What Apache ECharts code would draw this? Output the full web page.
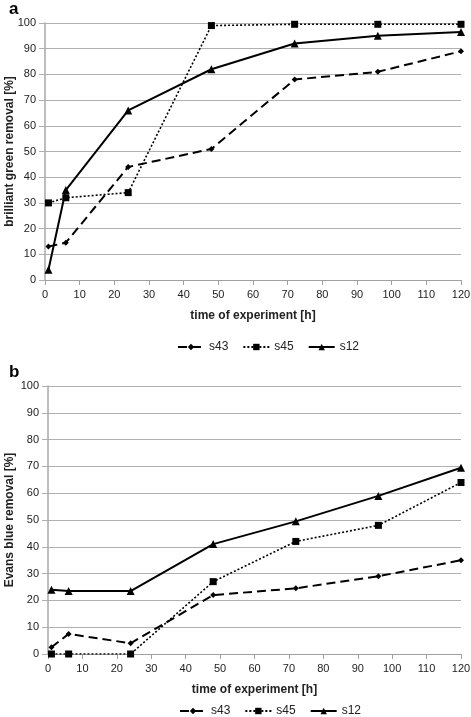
<!DOCTYPE html>
<html><head><meta charset="utf-8">
<script src="https://cdn.jsdelivr.net/npm/echarts@6/dist/echarts.min.js"></script>
<style>html,body{margin:0;padding:0;background:#fff}#c{width:471px;height:717px}</style>
</head><body><div id="c"></div>
<script>
const hours = [1, 6, 24, 48, 72, 96, 120];
const seriesNames = ['s43', 's45', 's12'];
const greenS43 = [13, 14.5, 44, 51, 78, 81, 89];
const greenS45 = [30, 32, 34, 99, 99.5, 99.5, 99.5];
const greenS12 = [4, 35, 66, 82, 92, 95, 96.5];
const blueS43 = [2.5, 7.5, 4, 22, 24.5, 29, 35];
const blueS45 = [0, 0, 0, 27, 42, 48, 64];
const blueS12 = [24, 23.5, 23.5, 41, 49.5, 59, 69.5];
const xTitle = 'time of experiment [h]';
const yTitleA = 'brilliant green removal [%]';
const yTitleB = 'Evans blue removal [%]';

const pair = (ys) => hours.map((h, i) => [h, ys[i]]);
const FONT = 'Liberation Sans, Arial, sans-serif';
const styles = {
  s43: {type: [9, 5], width: 2, symbol: 'diamond', size: 6},
  s45: {type: [2, 2], width: 1.6, symbol: 'rect', size: 7},
  s12: {type: 'solid', width: 2, symbol: 'triangle', size: 8}
};
function mk(name, ys, idx) {
  const s = styles[name];
  return {
    name, type: 'line', xAxisIndex: idx, yAxisIndex: idx, data: pair(ys),
    symbol: s.symbol, symbolSize: s.size, showSymbol: true,
    lineStyle: {color: '#000', width: s.width, type: s.type},
    itemStyle: {color: '#000'}, animation: false
  };
}
function xAx(idx) {
  return {
    type: 'value', gridIndex: idx, min: 0, max: 120, interval: 10,
    name: xTitle, nameLocation: 'middle', nameGap: 30, nameMoveOverlap: false,
    nameTextStyle: {fontFamily: FONT, fontSize: 12, fontWeight: 'bold', color: '#222'},
    axisLine: {lineStyle: {color: '#a0a0a0'}},
    axisTick: {show: true, length: 5, lineStyle: {color: '#a0a0a0'}},
    axisLabel: {fontFamily: FONT, fontSize: 11, color: '#222', margin: 9},
    splitLine: {show: false}
  };
}
function yAx(idx, title, gap) {
  return {
    type: 'value', gridIndex: idx, min: 0, max: 100, interval: 10,
    name: title, nameLocation: 'middle', nameGap: gap, nameRotate: 90, nameMoveOverlap: false,
    nameTextStyle: {fontFamily: FONT, fontSize: 12, fontWeight: 'bold', color: '#222'},
    axisLine: {show: true, lineStyle: {color: '#a8a8a8', width: 1.5}},
    axisTick: {show: true, length: 6, lineStyle: {color: '#b0b0b0'}},
    axisLabel: {fontFamily: FONT, fontSize: 11, color: '#222', margin: 9},
    splitLine: {show: true, lineStyle: {color: '#b0b0b0', width: 1}}
  };
}
const legendCommon = {
  data: seriesNames, itemWidth: 26, itemHeight: 8, itemGap: 14,
  textStyle: {fontFamily: FONT, fontSize: 12, color: '#222'}, selectedMode: false
};
const chart = echarts.init(document.getElementById('c'), null, {renderer: 'canvas'});
chart.setOption({
  backgroundColor: '#fff',
  animation: false,
  title: [
    {text: 'a', left: 4, top: -4, textStyle: {fontFamily: FONT, fontSize: 17, fontWeight: 'bold', color: '#000'}},
    {text: 'b', left: 4, top: 359, textStyle: {fontFamily: FONT, fontSize: 17, fontWeight: 'bold', color: '#000'}}
  ],
  legend: [
    Object.assign({left: 172, top: 336}, legendCommon),
    Object.assign({left: 174, top: 700}, legendCommon)
  ],
  grid: [
    {left: 45, top: 23, width: 416, height: 257, containLabel: false, outerBoundsMode: 'none'},
    {left: 48, top: 386, width: 413, height: 268, containLabel: false, outerBoundsMode: 'none'}
  ],
  xAxis: [xAx(0), xAx(1)],
  yAxis: [yAx(0, yTitleA, 29), yAx(1, yTitleB, 32)],
  series: [
    mk('s43', greenS43, 0), mk('s45', greenS45, 0), mk('s12', greenS12, 0),
    mk('s43', blueS43, 1), mk('s45', blueS45, 1), mk('s12', blueS12, 1)
  ]
});
</script></body></html>
